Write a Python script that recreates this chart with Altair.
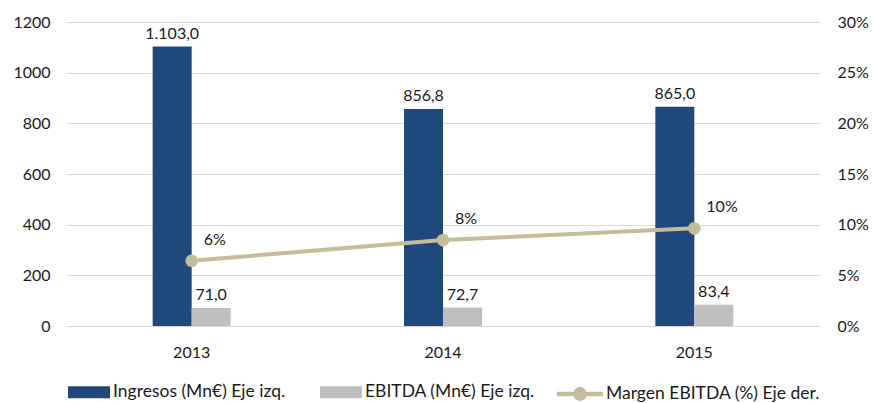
import altair as alt
import pandas as pd

# Series values
years = ["2013", "2014", "2015"]
ingresos = [1103.0, 856.8, 865.0]
ebitda = [71.0, 72.7, 83.4]
margen = [0.0644, 0.0848, 0.0964]

S_ING = "Ingresos (Mn€) Eje izq."
S_EBI = "EBITDA (Mn€) Eje izq."
S_MAR = "Margen EBITDA (%) Eje der."

BLUE = "#1F497D"
GRAY = "#BFBFBF"
TAN = "#C4BD97"
TXT = "#1A1A1A"
FONT = "Lato"

bars_df = pd.DataFrame({
    "year": years * 2,
    "series": [S_ING] * 3 + [S_EBI] * 3,
    "value": ingresos + ebitda,
})
mar_df = pd.DataFrame({"year": years, "series": [S_MAR] * 3, "margen": margen})

# legend symbols: wide block for bars, line with a dot for the margin series
RECT_PATH = "M-1,-0.28H1V0.28H-1Z"
LINE_PATH = ("M-1,-0.1H1V0.1H-1Z "
             "M-0.3,0A0.3,0.3 0 1,1 0.3,0A0.3,0.3 0 1,1 -0.3,0Z")

x = alt.X(
    "year:N", title=None,
    scale=alt.Scale(paddingInner=0, paddingOuter=0),
    axis=alt.Axis(labelAngle=0, ticks=False, domain=False, labelPadding=18,
                  labelFontSize=16, labelColor=TXT, labelFont=FONT),
)

y_left = alt.Y(
    "value:Q", title=None,
    scale=alt.Scale(domain=[0, 1200], nice=False),
    axis=alt.Axis(values=[0, 200, 400, 600, 800, 1000, 1200], format="d",
                  grid=True, gridColor="#D9D9D9", domain=False, ticks=False,
                  labelPadding=16, labelFontSize=16, labelColor=TXT,
                  labelFont=FONT),
)

y_right = alt.Y(
    "margen:Q", title=None,
    scale=alt.Scale(domain=[0, 0.30], nice=False),
    axis=alt.Axis(orient="right", values=[0, 0.05, 0.10, 0.15, 0.20, 0.25, 0.30],
                  format=".0%", grid=False, domain=False, ticks=False,
                  labelPadding=17, labelFontSize=16, labelColor=TXT,
                  labelFont=FONT),
)

color = alt.Color(
    "series:N",
    scale=alt.Scale(domain=[S_ING, S_EBI], range=[BLUE, GRAY]),
    legend=alt.Legend(title=None, orient="none", legendX=2, legendY=349,
                      direction="horizontal", symbolType=RECT_PATH,
                      symbolSize=1764, symbolStrokeWidth=0, labelFontSize=17.5,
                      labelFont=FONT, labelColor=TXT, labelOffset=3,
                      labelLimit=0, columnPadding=34, padding=0,
                      symbolOpacity=1),
)

base = alt.Chart(bars_df).transform_calculate(
    label="replace(replace(replace(format(datum.value, ',.1f'), ',', '#'), '.', ','), '#', '.')"
)

ing = base.transform_filter(alt.datum.series == S_ING)
ebi = base.transform_filter(alt.datum.series == S_EBI)

ing_bar = ing.mark_bar(width=39, xOffset=-19.5).encode(x=x, y=y_left, color=color)
ebi_bar = ebi.mark_bar(width=39, xOffset=19.5).encode(x=x, y=y_left, color=color)
ing_txt = ing.mark_text(dx=-19.5, dy=-5, baseline="bottom", fontSize=16,
                        font=FONT, color=TXT).encode(x=x, y=y_left, text="label:N")
ebi_txt = ebi.mark_text(dx=19.5, dy=-5, baseline="bottom", fontSize=16,
                        font=FONT, color=TXT).encode(x=x, y=y_left, text="label:N")

left = alt.layer(ing_bar, ebi_bar, ing_txt, ebi_txt)

mbase = alt.Chart(mar_df)
m_line = mbase.mark_line(color=TAN, strokeWidth=4).encode(x=x, y=y_right)
m_pts = mbase.mark_circle(size=160, opacity=1).encode(
    x=x, y=y_right,
    fill=alt.Fill(
        "series:N",
        scale=alt.Scale(domain=[S_MAR], range=[TAN]),
        legend=alt.Legend(title=None, orient="none", legendX=491, legendY=349,
                          symbolType=LINE_PATH, symbolSize=2116,
                          symbolStrokeWidth=0, labelFontSize=17.5,
                          labelFont=FONT, labelColor=TXT, labelOffset=3,
                          labelLimit=0, padding=0, symbolOpacity=1),
    ),
)
m_txt = mbase.mark_text(align="left", dx=12, dy=-21, fontSize=16, font=FONT,
                        color=TXT).encode(x=x, y=y_right,
                                          text=alt.Text("margen:Q", format=".0%"))

right = alt.layer(m_line, m_pts, m_txt)

chart = (
    alt.layer(left, right)
    .resolve_scale(y="independent")
    .properties(
        width=754, height=304,
        autosize=alt.AutoSizeParams(type="none"),
        padding={"left": 66, "top": 22, "right": 54, "bottom": 77},
        background="white",
    )
    .configure_view(stroke=None)
)

chart.save("out.html", embed_options={"renderer": "svg", "actions": False})
